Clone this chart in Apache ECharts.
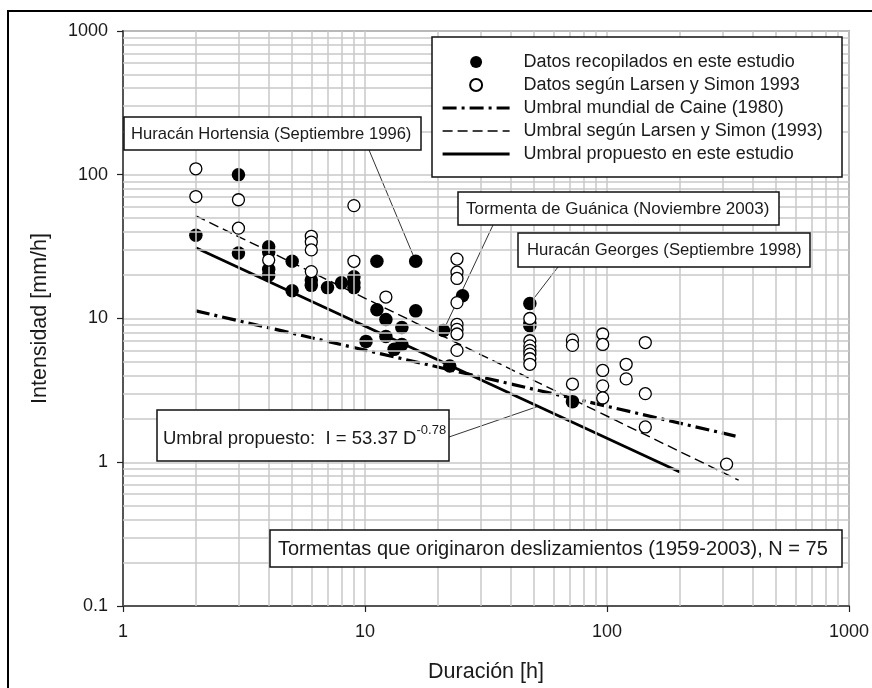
<!DOCTYPE html>
<html>
<head>
<meta charset="utf-8">
<script src="https://cdn.jsdelivr.net/npm/echarts@6/dist/echarts.min.js"></script>
<style>
  html, body { margin: 0; padding: 0; background: #fff; }
  #chart { width: 872px; height: 688px; }
</style>
</head>
<body>
<div id="chart"></div>
<script>
const FONT = '"Liberation Sans", Arial, sans-serif';
const INK = '#1a1a1a';
const GRID_GRAY = '#c9c9c9';

// Axis decades (duration in hours, intensity in mm/h)
const xDecades = [1, 10, 100, 1000];
const yDecades = [0.1, 1, 10, 100, 1000];

const seriesNames = [
  'Datos recopilados en este estudio',
  'Datos según Larsen y Simon 1993',
  'Umbral mundial de Caine (1980)',
  'Umbral según Larsen y Simon (1993)',
  'Umbral propuesto en este estudio'
];

// [duración h, intensidad mm/h] — storms compiled in this study
const recopilados = [
  [2, 38], [3, 100], [3, 28.5], [4, 31.5], [4, 29], [4, 22], [4, 20],
  [5, 25], [5, 15.6], [6, 18.5], [6, 17], [7, 16.4], [8, 17.7],
  [9, 19.5], [9, 17.7], [9, 16.4], [11.2, 25], [16.2, 25],
  [11.2, 11.5], [16.2, 11.3], [12.2, 9.85], [14.2, 8.67], [10.1, 6.93],
  [12.2, 7.5], [13.2, 6.1], [14.2, 6.6], [21.1, 8.26], [22.4, 4.67],
  [25.3, 14.4], [48, 12.7], [48, 9.3], [48, 8.9], [72, 2.64]
];

// [duración h, intensidad mm/h] — Larsen & Simon (1993) records
const larsenSimon = [
  [2, 110], [2, 70.5], [3, 67], [3, 42.5], [4, 25.5],
  [6, 37.3], [6, 34], [6, 30], [6, 21.2], [9, 61], [9, 25], [12.2, 14.1],
  [24, 25.9], [24, 21], [24, 19], [24, 12.9], [24, 9.1], [24, 8.4], [24, 7.8], [24, 6],
  [48, 10], [48, 7], [48, 6.45], [48, 6], [48, 5.65], [48, 5.25], [48, 4.8],
  [72, 7.1], [72, 6.5], [72, 3.5],
  [96, 7.8], [96, 6.6], [96, 4.35], [96, 3.4], [96, 2.8],
  [120, 4.8], [120, 3.8], [144, 6.8], [144, 3.0], [144, 1.76], [312, 0.97]
];

// Threshold lines (end points; straight in log-log space)
const umbralCaine = [[2, 11.3], [340, 1.52]];
const umbralLarsen = [[2, 51.8], [350, 0.75]];
const umbralPropuesto = [[2, 31.08], [200, 0.856]];

// Minor grid values 2..9 inside every decade
function minorValues(decades) {
  const out = [];
  for (let i = 0; i < decades.length - 1; i++) {
    for (let k = 2; k <= 9; k++) out.push(+(decades[i] * k).toPrecision(3));
  }
  return out;
}
const xMinor = minorValues(xDecades);
const yMinor = minorValues(yDecades);

const chart = echarts.init(document.getElementById('chart'), null, { renderer: 'canvas' });

const tickText = v => String(+v.toPrecision(3));

const axisCommon = {
  type: 'log',
  logBase: 10,
  axisLine: { show: true, lineStyle: { color: '#555', width: 2 } },
  axisTick: { show: true, length: 6, lineStyle: { color: '#222', width: 1.2 } },
  splitLine: { show: true, lineStyle: { color: GRID_GRAY, width: 1.5 } },
  nameLocation: 'middle',
  nameTextStyle: { fontSize: 21.5, color: INK, fontFamily: FONT }
};

// Line styles shared by the threshold series and their legend samples
const caineStyle = { color: '#000', width: 3.2, type: [14, 5, 3, 5] };
const larsenStyle = { color: '#000', width: 1.4, type: [10, 5] };
const propuestoStyle = { color: '#000', width: 2.8, type: 'solid' };

// Line series draw no point markers; their legend marker is hidden too
const hiddenMarker = { color: 'rgba(0,0,0,0)', borderWidth: 0 };

chart.setOption({
  animation: false,
  backgroundColor: '#fff',
  textStyle: { fontFamily: FONT },
  grid: {
    left: 123, right: 21, top: 31, bottom: 78,
    show: true, borderColor: '#666', borderWidth: 1.5, backgroundColor: 'transparent'
  },
  xAxis: Object.assign({}, axisCommon, {
    min: xDecades[0], max: xDecades[xDecades.length - 1],
    name: 'Duración [h]', nameGap: 55,
    axisLabel: { fontSize: 18, color: INK, fontFamily: FONT, margin: 17, formatter: tickText }
  }),
  yAxis: Object.assign({}, axisCommon, {
    min: yDecades[0], max: yDecades[yDecades.length - 1],
    name: 'Intensidad [mm/h]', nameGap: 72, nameRotate: 90,
    axisLabel: { fontSize: 18, color: INK, fontFamily: FONT, margin: 15, formatter: tickText }
  }),
  legend: {
    data: [
      { name: seriesNames[0] },
      { name: seriesNames[1] },
      { name: seriesNames[2], lineStyle: { width: 3.2 } },
      { name: seriesNames[3], lineStyle: { width: 1.6 } },
      { name: seriesNames[4], lineStyle: { width: 3 } }
    ],
    orient: 'vertical',
    left: 436, top: 48,
    itemWidth: 67, itemHeight: 12, itemGap: 5,
    selectedMode: false,
    z: 60,
    textStyle: { fontSize: 18, color: INK, fontFamily: FONT, lineHeight: 18, padding: [0, 0, 0, 9] }
  },
  series: [
    {
      name: 'minor-grid',
      type: 'line',
      data: [],
      z: 0,
      silent: true,
      markLine: {
        silent: true,
        symbol: ['none', 'none'],
        label: { show: false },
        lineStyle: { color: GRID_GRAY, width: 1.5, type: 'solid' },
        emphasis: { disabled: true },
        data: xMinor.map(v => ({ xAxis: v })).concat(yMinor.map(v => ({ yAxis: v })))
      }
    },
    {
      name: seriesNames[2],
      type: 'line',
      data: umbralCaine,
      symbol: 'none',
      z: 3,
      itemStyle: hiddenMarker,
      lineStyle: caineStyle
    },
    {
      name: seriesNames[3],
      type: 'line',
      data: umbralLarsen,
      symbol: 'none',
      z: 3,
      itemStyle: hiddenMarker,
      lineStyle: larsenStyle
    },
    {
      name: seriesNames[4],
      type: 'line',
      data: umbralPropuesto,
      symbol: 'none',
      z: 3,
      itemStyle: hiddenMarker,
      lineStyle: propuestoStyle
    },
    {
      name: seriesNames[0],
      type: 'scatter',
      data: recopilados,
      symbol: 'circle',
      symbolSize: 13.5,
      z: 4,
      itemStyle: { color: '#000', opacity: 1 }
    },
    {
      name: seriesNames[1],
      type: 'scatter',
      data: larsenSimon,
      symbol: 'circle',
      symbolSize: 12,
      z: 5,
      itemStyle: { color: '#fff', borderColor: '#000', borderWidth: 1.3, opacity: 1 }
    }
  ]
});

// Annotation boxes, leader lines and the outer frame
const toPx = p => chart.convertToPixel({ gridIndex: 0 }, p);

function box(x, y, w, h, z) {
  return {
    type: 'rect', z: z || 100,
    shape: { x: x, y: y, width: w, height: h },
    style: { fill: '#fff', stroke: '#111', lineWidth: 1.5 }
  };
}
function label(text, x, y, size) {
  return {
    type: 'text', z: 101, x: x, y: y,
    style: { text: text, fontSize: size || 17, fontFamily: FONT, fill: INK, verticalAlign: 'middle' }
  };
}
function leader(from, toValue) {
  const to = toPx(toValue);
  return {
    type: 'line', z: 1,
    shape: { x1: from[0], y1: from[1], x2: to[0], y2: to[1] },
    style: { stroke: '#333', lineWidth: 1 }
  };
}

chart.setOption({
  graphic: [
    { type: 'rect', z: 200, shape: { x: 8, y: 11, width: 900, height: 720 }, style: { fill: 'none', stroke: '#000', lineWidth: 2 } },
    // legend frame
    box(432, 37, 410, 140, 50),
    // storms
    leader([369, 150], [16.2, 25]),
    box(124, 117, 297, 33),
    label('Huracán Hortensia (Septiembre 1996)', 131, 134, 16.6),
    leader([493, 225], [21.1, 8.26]),
    box(458, 192, 321, 33),
    label('Tormenta de Guánica (Noviembre 2003)', 466, 209, 17),
    leader([558, 267], [48, 12.7]),
    box(518, 233, 292, 34),
    label('Huracán Georges (Septiembre 1998)', 527, 250, 16.7),
    // proposed threshold equation
    leader([449, 437], [52, 2.45]),
    box(157, 410, 292, 51),
    {
      type: 'text', z: 101, x: 163, y: 436,
      style: {
        text: '{a|Umbral propuesto:  I = 53.37 D}{s|-0.78}',
        verticalAlign: 'middle',
        rich: {
          a: { fontSize: 18.5, fontFamily: FONT, fill: INK, lineHeight: 24, verticalAlign: 'bottom' },
          s: { fontSize: 13, fontFamily: FONT, fill: INK, lineHeight: 13, verticalAlign: 'top' }
        }
      }
    },
    // sample description
    box(270, 530, 572, 37),
    label('Tormentas que originaron deslizamientos (1959-2003), N = 75', 278, 549, 20)
  ]
});
</script>
</body>
</html>
